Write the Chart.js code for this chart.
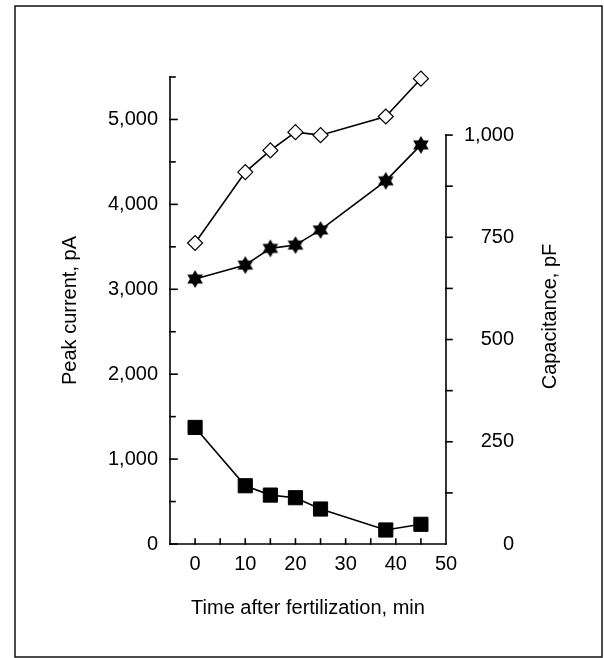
<!DOCTYPE html>
<html>
<head>
<meta charset="utf-8">
<script src="https://cdn.jsdelivr.net/npm/chart.js@4/dist/chart.umd.min.js"></script>
<style>
  html, body { margin: 0; padding: 0; background: #fff; }
  #wrap { width: 604px; height: 658px; }
</style>
</head>
<body>
<div id="wrap"><canvas id="chart" width="604" height="658"></canvas></div>
<script>
// ==== data ====
const times = [0, 10, 15, 20, 25, 38, 45];
const currentOpen = [3545, 4380, 4635, 4850, 4815, 5035, 5480];   // pA, open diamonds
const currentFilled = [1373, 686, 576, 545, 412, 165, 232];      // pA, filled squares
const capacitance = [648, 682, 723, 731, 768, 888, 976];         // pF, filled stars

const xTicks = [0, 10, 20, 30, 40, 50];
const leftTicks = [0, 1000, 2000, 3000, 4000, 5000];
const rightTicks = [0, 250, 500, 750, 1000];

const rightTitle = "Capacitance, pF";
const FONT = "'Liberation Sans', Arial, sans-serif";

// ==== six-pointed filled star marker ====
function makeHexagram(r) {
    const c = document.createElement("canvas");
    const s = Math.ceil(r * 2 + 2);
    c.width = s; c.height = s;
    const g = c.getContext("2d");
    const cx = s / 2, cy = s / 2;
    g.fillStyle = "#000";
    [-Math.PI / 2, Math.PI / 2].forEach(a0 => {
        g.beginPath();
        for (let i = 0; i < 3; i++) {
            const a = a0 + i * 2 * Math.PI / 3;
            const px = cx + r * Math.cos(a), py = cy + r * Math.sin(a);
            if (i === 0) g.moveTo(px, py); else g.lineTo(px, py);
        }
        g.closePath();
        g.fill();
    });
    return c;
}

function pts(ys) {
    return times.map((t, i) => ({ x: t, y: ys[i] }));
}

// ==== axes lines, ticks, frame and right title ====
const axesPlugin = {
    id: "axesPlugin",
    beforeDraw(chart) {
        const ctx = chart.ctx;
        ctx.save();
        ctx.fillStyle = "#fff";
        ctx.fillRect(0, 0, chart.width, chart.height);
        ctx.strokeStyle = "#111";
        ctx.lineWidth = 1.5;
        ctx.strokeRect(15, 6, 587, 651);
        ctx.restore();
    },
    afterDraw(chart) {
        const ctx = chart.ctx;
        const { x, y, y1 } = chart.scales;
        ctx.save();
        ctx.strokeStyle = "#000";
        ctx.lineWidth = 1.6;
        ctx.lineCap = "square";

        const xl = x.getPixelForValue(x.min);
        const xr = x.getPixelForValue(50);
        const yb = y.getPixelForValue(0);

        // left axis
        ctx.beginPath();
        ctx.moveTo(xl, yb);
        ctx.lineTo(xl, y.getPixelForValue(y.max));
        ctx.stroke();
        for (let v = 0; v <= 5500; v += 500) {
            const py = y.getPixelForValue(v);
            const len = v % 1000 === 0 ? 7 : 5;
            ctx.beginPath();
            ctx.moveTo(xl, py);
            ctx.lineTo(xl + len, py);
            ctx.stroke();
        }

        // bottom axis
        ctx.beginPath();
        ctx.moveTo(xl, yb);
        ctx.lineTo(xr, yb);
        ctx.stroke();
        for (let v = 0; v <= 45; v += 5) {
            const px = x.getPixelForValue(v);
            ctx.beginPath();
            ctx.moveTo(px, yb);
            ctx.lineTo(px, yb - 5);
            ctx.stroke();
        }

        // right axis (capacitance, stops at 1,000)
        ctx.beginPath();
        ctx.moveTo(xr, y1.getPixelForValue(0));
        ctx.lineTo(xr, y1.getPixelForValue(1000));
        ctx.stroke();
        for (let v = 125; v <= 1000; v += 125) {
            const py = y1.getPixelForValue(v);
            ctx.beginPath();
            ctx.moveTo(xr, py);
            ctx.lineTo(xr + 6, py);
            ctx.stroke();
        }

        // right axis title, reading bottom to top like the left one
        ctx.translate(550, (y1.top + y1.bottom) / 2 + 6);
        ctx.rotate(-Math.PI / 2);
        ctx.fillStyle = "#000";
        ctx.font = "20px " + FONT;
        ctx.textAlign = "center";
        ctx.textBaseline = "middle";
        ctx.fillText(rightTitle, 0, 0);
        ctx.restore();
    }
};

const star = makeHexagram(9);

const common = {
    showLine: true,
    clip: false,
    borderColor: "#000",
    borderWidth: 1.6
};

new Chart(document.getElementById("chart"), {
    type: "scatter",
    data: {
        datasets: [
            Object.assign({
                label: "Peak current (open)",
                data: pts(currentOpen),
                yAxisID: "y",
                pointStyle: "rectRot",
                pointRadius: 7.5,
                pointBackgroundColor: "#fff",
                pointBorderColor: "#000",
                pointBorderWidth: 1.2
            }, common),
            Object.assign({
                label: "Capacitance",
                data: pts(capacitance),
                yAxisID: "y1",
                pointStyle: star,
                pointRadius: 9
            }, common),
            Object.assign({
                label: "Peak current (filled)",
                data: pts(currentFilled),
                yAxisID: "y",
                pointStyle: "rect",
                pointRadius: 10,
                pointBackgroundColor: "#000",
                pointBorderColor: "#000",
                pointBorderWidth: 1
            }, common)
        ]
    },
    options: {
        responsive: false,
        animation: false,
        events: [],
        layout: { padding: { left: 0, right: 90, top: 77, bottom: 0 } },
        plugins: { legend: { display: false }, tooltip: { enabled: false } },
        scales: {
            x: {
                type: "linear",
                min: -5,
                max: 50,
                grid: { display: false, drawTicks: false },
                border: { display: false },
                afterBuildTicks: s => { s.ticks = xTicks.map(v => ({ value: v })); },
                afterFit: s => { s.height = 114; },
                ticks: {
                    color: "#000",
                    padding: 8,
                    font: { family: FONT, size: 20 },
                    maxRotation: 0
                },
                title: {
                    display: true,
                    text: "Time after fertilization, min",
                    color: "#000",
                    font: { family: FONT, size: 20 },
                    padding: { top: 0, bottom: 38 }
                }
            },
            y: {
                position: "left",
                min: 0,
                max: 5500,
                grid: { display: false, drawTicks: false },
                border: { display: false },
                afterBuildTicks: s => { s.ticks = leftTicks.map(v => ({ value: v })); },
                afterFit: s => { s.width = 170; },
                ticks: {
                    color: "#000",
                    padding: 12,
                    font: { family: FONT, size: 20 },
                    callback: v => v.toLocaleString("en-US")
                },
                title: {
                    display: true,
                    text: "Peak current, pA",
                    color: "#000",
                    font: { family: FONT, size: 20 },
                    padding: { top: 58, bottom: 0 }
                }
            },
            y1: {
                position: "right",
                min: 0,
                max: 1142,
                grid: { display: false, drawTicks: false },
                border: { display: false },
                afterBuildTicks: s => { s.ticks = rightTicks.map(v => ({ value: v })); },
                afterFit: s => { s.width = 68; },
                ticks: {
                    color: "#000",
                    padding: 10,
                    crossAlign: "far",
                    font: { family: FONT, size: 20 },
                    callback: v => v.toLocaleString("en-US")
                }
            }
        }
    },
    plugins: [axesPlugin]
});
</script>
</body>
</html>
